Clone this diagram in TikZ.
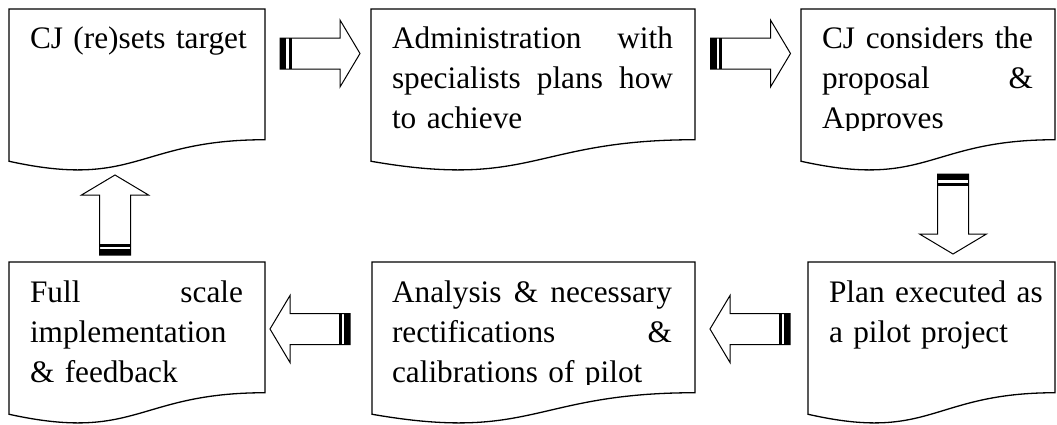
\documentclass[tikz,border=0pt]{standalone}
\usepackage{fontspec}
\setmainfont{Liberation Serif}
\tikzset{
  doc/.style={draw=black, line width=1.3pt, fill=white, line join=miter},
  arr/.style={draw=black, line width=1pt, fill=white, line join=miter},
  txt/.style={anchor=north west, inner sep=0pt, outer sep=0pt, text width=#1, align=left,
    font=\fontsize{31.3}{40}\selectfont}
}
% document shape: left x, top y (pixels from top), width, height
\newcommand\docshape[4]{%
  \draw[doc] (#1,-#2) -- ({#1+#3},-#2) -- ({#1+#3},{-(#2+0.802*#4)})
    .. controls ({#1+0.5*#3},{-(#2+0.802*#4)}) and ({#1+0.5*#3},{-(#2+1.107*#4)}) ..
    (#1,{-(#2+0.934*#4)}) -- cycle;}
% striped block arrow: tail x, tail y (negative), rotation
\newcommand\stripedarrow[3]{%
  \begin{scope}[shift={(#1,#2)},rotate=#3]
    \draw[arr] (0,15.5) -- (60,15.5) -- (60,33.5) -- (80,0) -- (60,-33.5) -- (60,-15.5) -- (0,-15.5) -- cycle;
    \fill[black] (0,-15.5) rectangle (6,15.5);
    \draw[black, line width=3pt] (10,-15.5) -- (10,15.5);
  \end{scope}}
% justified line: spaces stretch to fill the given width
\newcommand\jline[2]{\makebox[#1][s]{\spaceskip=0.25em plus 1em\relax #2}}
\begin{document}
\begin{tikzpicture}[x=1pt,y=1pt]
\useasboundingbox (0,0) rectangle (1057,-424);
% boxes
\docshape{9}{9}{256}{163}
\docshape{371}{9}{324}{163}
\docshape{801}{9}{254}{163}
\docshape{9}{262}{256}{163}
\docshape{372}{262}{323}{163}
\docshape{808}{262}{247}{163}
% texts
\begin{scope}
  \clip (0,-9) rectangle (1057,-130);
  \node[txt=300pt] (t1) at (30,-20) {\strut CJ (re)sets target};
  \node[txt=330pt] (t2) at (392,-20) {\strut\jline{281pt}{Administration with}\\\jline{281pt}{specialists plans how}\\to achieve};
  \node[txt=260pt] (t3) at (822,-20) {\strut\jline{211pt}{CJ considers the}\\\jline{211pt}{proposal \&}\\Approves};
\end{scope}
\begin{scope}
  \clip (0,-262) rectangle (1057,-384);
  \node[txt=300pt] (t4) at (30,-274) {\strut\jline{213pt}{Full scale}\\implementation\\\& feedback};
  \node[txt=330pt] (t5) at (392,-274) {\strut\jline{280pt}{Analysis \& necessary}\\\jline{280pt}{rectifications \&}\\calibrations of pilot};
  \node[txt=260pt] (t6) at (829,-274) {\strut Plan executed as\\a pilot project};
\end{scope}
% arrows
\stripedarrow{280}{-53.5}{0}
\stripedarrow{710.5}{-53.5}{0}
\stripedarrow{953}{-174}{-90}
\stripedarrow{790}{-329}{180}
\stripedarrow{350}{-329}{180}
\stripedarrow{115}{-255}{90}
\end{tikzpicture}
\end{document}
